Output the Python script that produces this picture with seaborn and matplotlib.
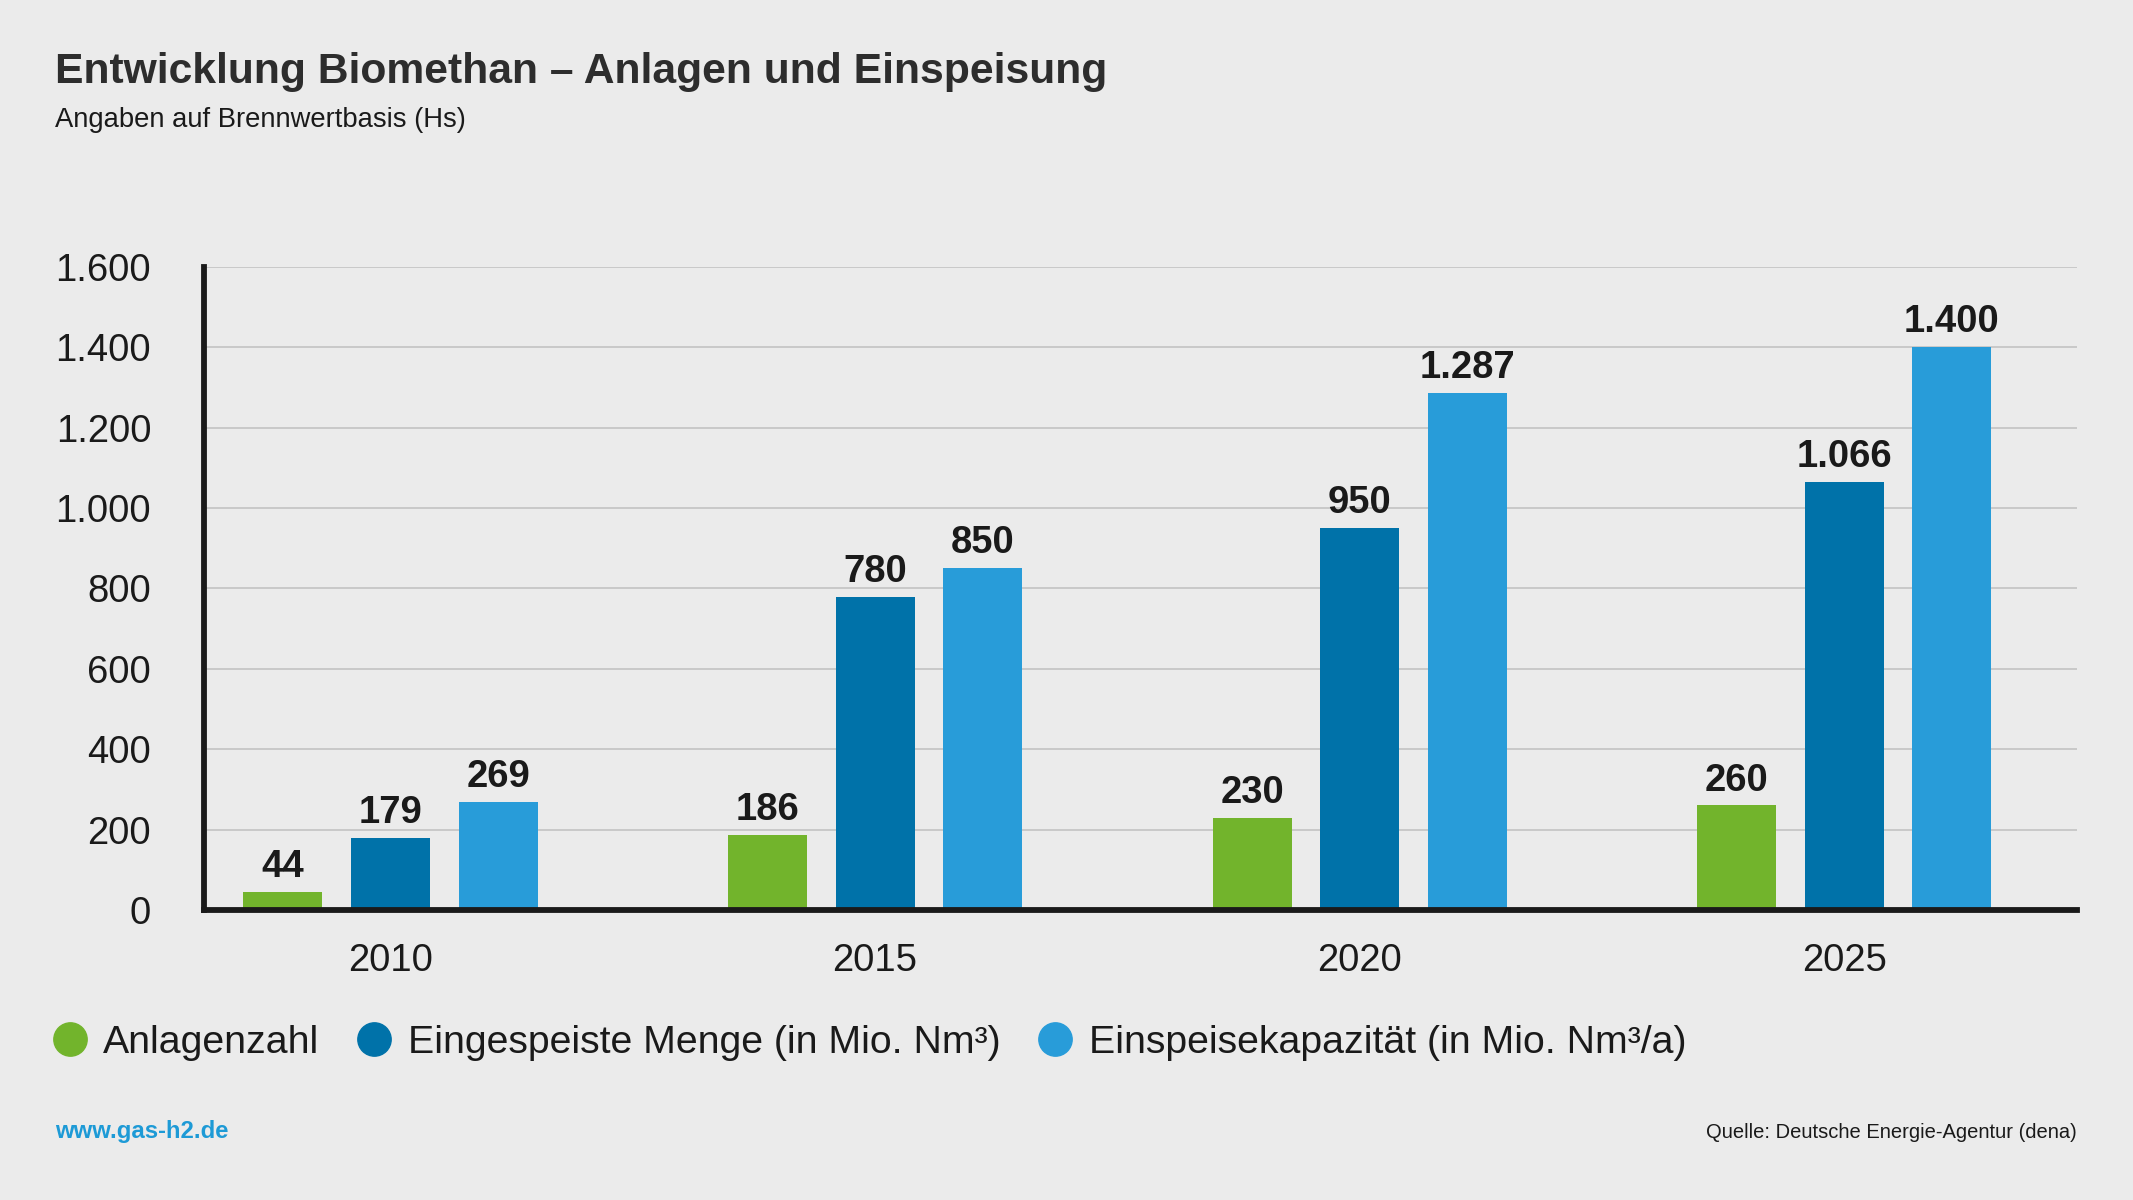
import matplotlib
matplotlib.use("Agg")
import matplotlib.pyplot as plt
from matplotlib.lines import Line2D
import pandas as pd
import seaborn as sns

# Data
YEARS = ["2010", "2015", "2020", "2025"]
SERIES = [
    "Anlagenzahl",
    "Eingespeiste Menge (in Mio. Nm³)",
    "Einspeisekapazität (in Mio. Nm³/a)",
]
ANLAGEN = [44, 186, 230, 260]
MENGE = [179, 780, 950, 1066]
KAPAZITAET = [269, 850, 1287, 1400]
Y_TICKS = [0, 200, 400, 600, 800, 1000, 1200, 1400, 1600]

COLORS = ["#72B42C", "#0072A9", "#289CD9"]
BG = "#EBEBEB"
TEXT = "#1A1A1A"

df = pd.DataFrame({
    "year": YEARS * 3,
    "series": [SERIES[0]] * 4 + [SERIES[1]] * 4 + [SERIES[2]] * 4,
    "value": ANLAGEN + MENGE + KAPAZITAET,
})


def de_fmt(v):
    return f"{v:,.0f}".replace(",", ".")


sns.set_theme(style="white")
plt.rcParams["font.family"] = ["Liberation Sans", "DejaVu Sans"]
plt.rcParams["text.color"] = TEXT

fig = plt.figure(figsize=(21.33, 12), dpi=100, facecolor=BG)
ax = fig.add_axes([0.0956, 0.2417, 0.9737 - 0.0956, 0.7775 - 0.2417])
ax.set_facecolor(BG)

sns.barplot(data=df, x="year", y="value", hue="series", hue_order=SERIES,
            palette=COLORS, width=0.666, gap=0.265, saturation=1,
            linewidth=0, legend=False, ax=ax, zorder=3)

for cont in ax.containers:
    vals = [bar.get_height() for bar in cont]
    ax.bar_label(cont, labels=[de_fmt(v) for v in vals], padding=5,
                 fontsize=27.5, fontweight="bold", color=TEXT)

ax.set_ylim(0, 1600)
ax.set_xlim(-0.385, 3.48)
ax.set_yticks(Y_TICKS)
ax.set_yticklabels([de_fmt(t) for t in Y_TICKS])
ax.yaxis.grid(True, color="#C6C6C6", linewidth=1.3, zorder=0)
ax.set_axisbelow(True)
ax.tick_params(axis="y", length=0, pad=38, labelsize=27.5, labelcolor=TEXT)
ax.tick_params(axis="x", length=0, pad=24, labelsize=27.5, labelcolor=TEXT)
ax.set_xlabel("")
ax.set_ylabel("")

for side in ["top", "right"]:
    ax.spines[side].set_visible(False)
for side in ["left", "bottom"]:
    ax.spines[side].set_color(TEXT)
    ax.spines[side].set_linewidth(4.2)
    ax.spines[side].set_zorder(5)

# Legend
handles = [Line2D([], [], marker="o", linestyle="", markersize=24,
                  markerfacecolor=c, markeredgecolor=c) for c in COLORS]
fig.legend(handles, SERIES, loc="center left", bbox_to_anchor=(0.016, 0.131),
           ncol=3, frameon=False, fontsize=28.3, handlelength=1.0,
           handletextpad=0.35, columnspacing=0.9, borderaxespad=0)

# Titles
fig.text(0.026, 0.931, "Entwicklung Biomethan – Anlagen und Einspeisung",
         fontsize=30.7, fontweight="bold", color="#2D2D2D", va="baseline")
fig.text(0.026, 0.894, "Angaben auf Brennwertbasis (Hs)",
         fontsize=19.7, color=TEXT, va="baseline")

# Footer
fig.text(0.026, 0.0517, "www.gas-h2.de", fontsize=17.2, fontweight="bold",
         color="#1D9AD6", va="baseline")
fig.text(0.9737, 0.0517, "Quelle: Deutsche Energie-Agentur (dena)",
         fontsize=14.5, color=TEXT, va="baseline", ha="right")

fig.savefig("out.png", dpi=100, facecolor=BG)
